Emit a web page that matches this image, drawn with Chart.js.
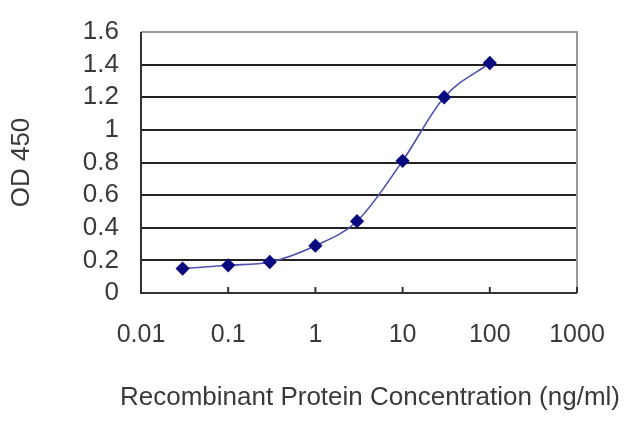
<!DOCTYPE html>
<html><head><meta charset="utf-8">
<script src="https://cdn.jsdelivr.net/npm/chart.js@4"></script>
<style>html,body{margin:0;padding:0;background:#fff}#w{width:640px;height:427px}</style>
</head><body><div id="w"><canvas id="c" width="640" height="427"></canvas></div>
<script>
const concentrations = [0.03, 0.1, 0.3, 1, 3, 10, 30, 100];
const od450 = [0.15, 0.17, 0.19, 0.29, 0.44, 0.81, 1.2, 1.41];
const xTickValues = [0.01, 0.1, 1, 10, 100, 1000];
const xTickLabels = ['0.01', '0.1', '1', '10', '100', '1000'];
const yTitle = 'OD 450';
const xTitle = 'Recombinant Protein Concentration (ng/ml)';

const FONT = 'Liberation Sans, Arial, sans-serif';

const frame = {
  id: 'frame',
  afterDraw(chart) {
    const {ctx, chartArea: a, scales} = chart;
    ctx.save();
    ctx.strokeStyle = '#9a9a9a';
    ctx.lineWidth = 2;
    ctx.beginPath();
    ctx.moveTo(a.left, a.top); ctx.lineTo(a.right, a.top); ctx.lineTo(a.right, a.bottom);
    ctx.stroke();
    ctx.strokeStyle = '#333';
    ctx.lineWidth = 2;
    ctx.beginPath();
    ctx.moveTo(a.left, a.top); ctx.lineTo(a.left, a.bottom); ctx.lineTo(a.right, a.bottom);
    xTickValues.forEach(v => {
      const px = scales.x.getPixelForValue(v);
      ctx.moveTo(px, a.bottom); ctx.lineTo(px, a.bottom - 6);
    });
    ctx.stroke();
    // x axis title (drawn without width compression)
    ctx.fillStyle = '#3a3a3a';
    ctx.font = '26px ' + FONT;
    ctx.textAlign = 'center';
    ctx.textBaseline = 'middle';
    ctx.fillText(xTitle, (a.left + a.right) / 2 + 11, a.bottom + 105);
    ctx.restore();
  }
};

new Chart(document.getElementById('c'), {
  type: 'line',
  data: {
    datasets: [{
      data: concentrations.map((x, i) => ({x, y: od450[i]})),
      borderColor: '#5050b0',
      borderWidth: 1.6,
      tension: 0.4,
      cubicInterpolationMode: 'monotone',
      pointStyle: 'rectRot',
      pointRadius: 6,
      pointBackgroundColor: '#0a0a80',
      pointBorderColor: '#0a0a80',
      fill: false
    }]
  },
  options: {
    responsive: false,
    animation: false,
    layout: {padding: {top: 32, right: 63, bottom: 0, left: 0}},
    plugins: {legend: {display: false}, tooltip: {enabled: false}},
    scales: {
      x: {
        type: 'logarithmic',
        min: 0.01, max: 1000,
        afterBuildTicks: s => { s.ticks = xTickValues.map(v => ({value: v})); },
        afterFit: s => { s.height = 134; s.paddingLeft = 0; s.paddingRight = 0; },
        grid: {display: false, drawTicks: false},
        border: {display: false},
        ticks: {
          callback: (v) => { const i = xTickValues.indexOf(v); return i >= 0 ? xTickLabels[i] : ''; },
          autoSkip: false, maxRotation: 0, padding: 27,
          color: '#3a3a3a', font: {family: FONT, size: 25}
        },
        title: {display: false}
      },
      y: {
        min: 0, max: 1.6,
        afterFit: s => { s.width = 141; s.paddingTop = 0; s.paddingBottom = 0; },
        ticks: {stepSize: 0.2, padding: 22, color: '#3a3a3a', autoSkip: false,
          font: {family: FONT, size: 26},
          callback: v => String(Math.round(v * 10) / 10)},
        grid: {color: '#222', lineWidth: 2, drawTicks: false},
        border: {display: false},
        title: {display: true, text: yTitle, color: '#3a3a3a', padding: {top: 6, bottom: 4},
          font: {family: FONT, size: 26}}
      }
    }
  },
  plugins: [frame]
});
</script></body></html>
